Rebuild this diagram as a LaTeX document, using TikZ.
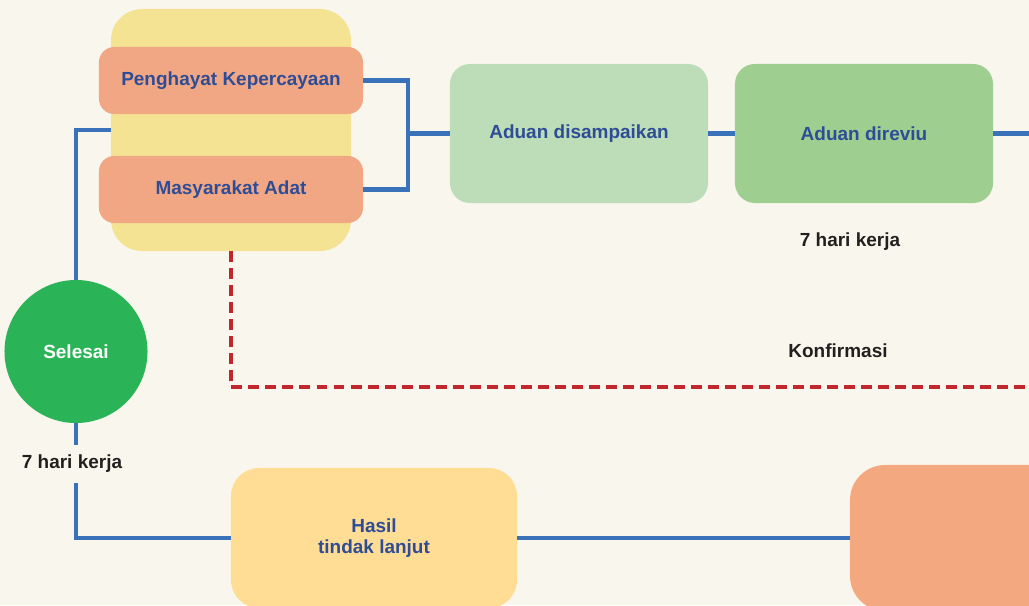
\documentclass[tikz,border=0pt]{standalone}
\usepackage{fontspec}
\setmainfont{Liberation Sans}
\definecolor{latar}{HTML}{F9F7ED}
\definecolor{kuning}{HTML}{F4E393}
\definecolor{salem}{HTML}{F2A784}
\definecolor{hijaumuda}{HTML}{BCDDB7}
\definecolor{hijau}{HTML}{9ECE90}
\definecolor{hijautua}{HTML}{2BB457}
\definecolor{krem}{HTML}{FFDD95}
\definecolor{oranye}{HTML}{F4A880}
\definecolor{garisbiru}{HTML}{3A72BA}
\definecolor{teksbiru}{HTML}{2E4D96}
\definecolor{merah}{HTML}{C1272D}
\definecolor{hitam}{HTML}{231F20}
\begin{document}
\begin{tikzpicture} [x = 0.025cm, y = -0.025cm,
  kotak/.style = {fill = #1, rounded corners = 0.5cm, align = center, text = teksbiru,
    font = \bfseries\fontsize{13.5}{14.5}\selectfont},
  keterangan/.style = {text = hitam, font = \bfseries\fontsize{13.5}{15}\selectfont},
  alur/.style = {draw = garisbiru, line width = 3.5pt},
  konfirm/.style = {draw = merah, line width = 3.5pt, dash pattern = on 7.8pt off 4.3pt}]
\useasboundingbox (0,0) rectangle (1029,605);
\fill [latar] (0,0) rectangle (1029,605);
\clip (0,0) rectangle (1029,605);
% kelompok pengadu
\node [kotak = kuning, rounded corners = 0.78cm, minimum width = 6cm, minimum height = 6.05cm] (kelompok) at (231,130) {};
\node [kotak = salem, rounded corners = 0.38cm, minimum width = 6.6cm, minimum height = 1.675cm] (peng) at (231,80.5) {Penghayat Kepercayaan};
\node [kotak = salem, rounded corners = 0.38cm, minimum width = 6.6cm, minimum height = 1.675cm] (mas) at (231,189.5) {Masyarakat Adat};
% tahapan atas
\node [kotak = hijaumuda, minimum width = 6.45cm, minimum height = 3.475cm] (aduan1) at (579,133.5) {Aduan disampaikan};
\node [kotak = hijau, minimum width = 6.45cm, minimum height = 3.475cm] (aduan2) at (864,133.5) {Aduan direviu};
\node [keterangan] (hk1) at (850,242) {7 hari kerja};
\node [keterangan] (konf) at (838,351) {Konfirmasi};
% selesai
\node [circle, fill = hijautua, text = white, minimum size = 3.575cm, inner sep = 0,
  font = \bfseries\fontsize{13.5}{15}\selectfont] (selesai) at (76,351.5) {Selesai};
\node [keterangan, minimum height = 0.95cm] (hk2) at (72,464) {7 hari kerja};
% tahapan bawah
\node [kotak = krem, rounded corners = 0.7cm, minimum width = 7.15cm, minimum height = 3.5cm] (hasil) at (374,538) {Hasil\\tindak lanjut};
\node [kotak = oranye, rounded corners = 0.88cm, minimum width = 7cm, minimum height = 3.65cm] (tindak) at (990,538) {};
\coordinate (cabang) at (408,133.5);
\coordinate (ujungkanan) at (1040,133.5);
\coordinate (ujungmerah) at (1040,387);
% garis
\draw [alur] (peng.east) -| (cabang) |- (mas.east);
\draw [alur] (cabang) -- (aduan1.west);
\draw [alur] (aduan1.east) -- (aduan2.west);
\draw [alur] (aduan2.east) -- (ujungkanan);
\draw [alur] (kelompok.west) -| (selesai.north);
\draw [alur] (selesai.south) -- (selesai.south |- hk2.north);
\draw [alur] (hk2.south -| selesai.south) |- (hasil.west);
\draw [alur] (hasil.east) -- (tindak.west);
\draw [konfirm] (kelompok.south) |- (ujungmerah);
\end{tikzpicture}
\end{document}
